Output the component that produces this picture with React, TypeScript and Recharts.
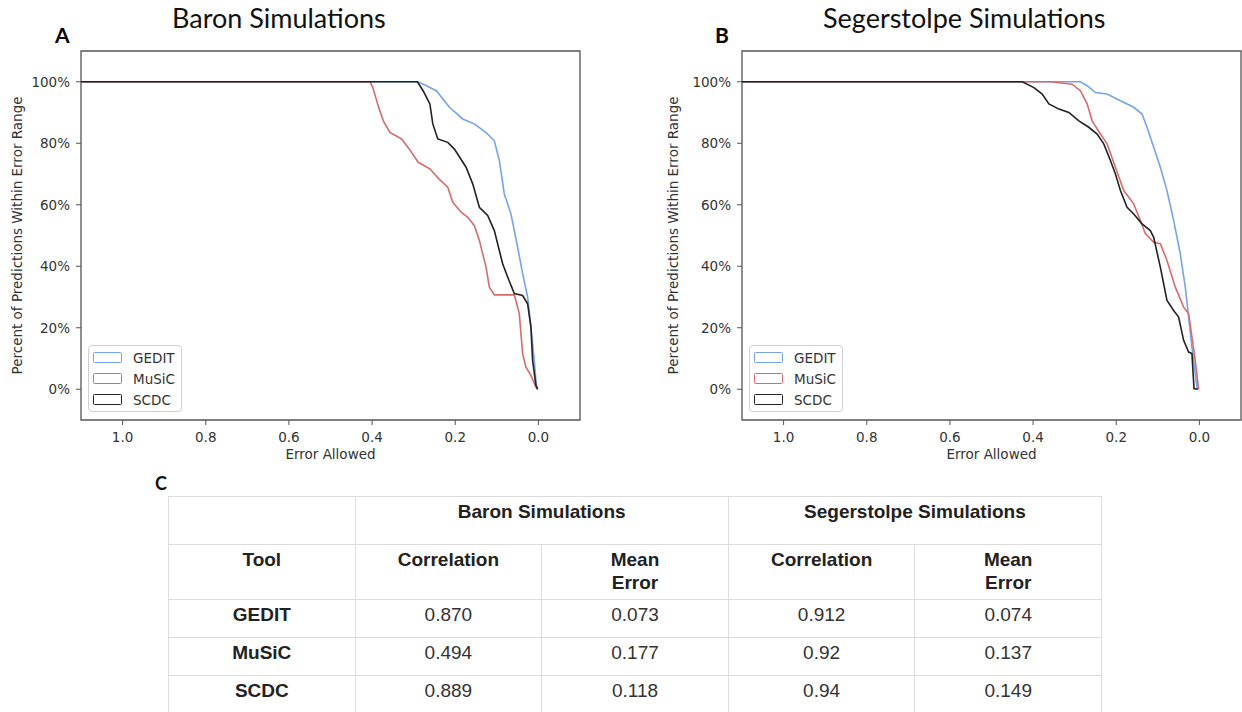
import React from 'react';
import { LineChart, Line, XAxis, YAxis, Legend, ReferenceArea } from 'recharts';

type Pt = [number, number];

// [error allowed, percent of predictions]
const baronGEDIT: Pt[] = [
  [1.1, 100], [0.29, 100], [0.269, 98.7], [0.245, 97], [0.214, 91.7], [0.182, 87.9], [0.154, 86.3],
  [0.126, 83.5], [0.106, 80.8], [0.094, 74.4], [0.082, 63.5], [0.066, 57], [0.05, 46.2], [0.038, 37.6],
  [0.026, 30], [0.018, 20.2], [0.01, 9.4], [0.005, 1.3], [0.002, 0],
];
const baronMuSiC: Pt[] = [
  [1.1, 100], [0.405, 100], [0.398, 98], [0.385, 92], [0.373, 87.3], [0.357, 83.5], [0.329, 81.4],
  [0.31, 78], [0.289, 73.8], [0.261, 71.7], [0.24, 68.5], [0.218, 65.7], [0.206, 60.8], [0.185, 57.5],
  [0.17, 55.9], [0.154, 53.2], [0.142, 48.4], [0.126, 39.7], [0.118, 33.2], [0.106, 30.7], [0.058, 30.7],
  [0.046, 24.6], [0.038, 11.6], [0.03, 7.2], [0.018, 4.5], [0.006, 0.7], [0.002, 0],
];
const baronSCDC: Pt[] = [
  [1.1, 100], [0.291, 100], [0.277, 97], [0.261, 92.8], [0.254, 86.3], [0.242, 81.4], [0.218, 80.3],
  [0.202, 78.1], [0.174, 72.2], [0.158, 66.8], [0.142, 59.2], [0.122, 56.5], [0.106, 51.6], [0.086, 40.8],
  [0.074, 36.5], [0.058, 31.1], [0.038, 30.5], [0.026, 27.8], [0.018, 20.2], [0.014, 9.4], [0.006, 1.3],
  [0.002, 0],
];
const segGEDIT: Pt[] = [
  [1.1, 100], [0.286, 100], [0.27, 98.7], [0.25, 96.5], [0.222, 96], [0.19, 93.8], [0.158, 91.7],
  [0.138, 89.5], [0.126, 85.2], [0.11, 78.7], [0.094, 72.2], [0.078, 64.6], [0.062, 54.9], [0.046, 44],
  [0.034, 33.2], [0.026, 23.5], [0.018, 13.7], [0.006, 0.7], [0.002, 0],
];
const segMuSiC: Pt[] = [
  [1.1, 100], [0.358, 100], [0.306, 99.2], [0.286, 97], [0.27, 92.8], [0.258, 87.3], [0.238, 83],
  [0.222, 79.8], [0.202, 72.2], [0.182, 64.6], [0.158, 60.3], [0.142, 54.9], [0.13, 50.6], [0.11, 47.8],
  [0.094, 47.3], [0.078, 41.9], [0.058, 33.2], [0.038, 26.7], [0.026, 24.6], [0.018, 17], [0.01, 9.4],
  [0.002, 0],
];
const segSCDC: Pt[] = [
  [1.1, 100], [0.426, 100], [0.398, 98.1], [0.378, 96], [0.362, 92.8], [0.338, 91.1], [0.314, 90],
  [0.29, 87.3], [0.266, 85.2], [0.246, 83], [0.23, 79.8], [0.214, 74.4], [0.202, 70], [0.19, 64.6],
  [0.174, 59.2], [0.158, 57], [0.138, 53.8], [0.118, 51.6], [0.11, 49.4], [0.094, 39.7], [0.078, 28.9],
  [0.062, 25.6], [0.05, 23.5], [0.038, 15.9], [0.026, 12.1], [0.018, 11.6], [0.013, 0.2], [0.004, 0],
];

const seriesNames = ['GEDIT', 'MuSiC', 'SCDC'];
const seriesColors = ['#74a3f0', '#dc6a6a', '#222222'];
const xTicks = [0, 0.2, 0.4, 0.6, 0.8, 1.0];
const yTicks = [0, 20, 40, 60, 80, 100];

// table
const tools = ['GEDIT', 'MuSiC', 'SCDC'];
const baronCorr = ['0.870', '0.494', '0.889'];
const baronErr = ['0.073', '0.177', '0.118'];
const segCorr = ['0.912', '0.92', '0.94'];
const segErr = ['0.074', '0.137', '0.149'];

const MPL = '"DejaVu Sans", sans-serif';
const TITLE = 'Lato, "Open Sans", sans-serif';

const toRows = (pts: Pt[]) => pts.map(([err, pct]) => ({ err, pct }));

const LegendBox = () => (
  <div style={{
    border: '1px solid #d0d0d0', borderRadius: 4, background: 'rgba(255,255,255,0.85)',
    padding: '1px 4px', width: 94, boxSizing: 'border-box', fontFamily: MPL, fontSize: 13.5, color: '#333',
  }}>
    {seriesNames.map((name, i) => (
      <div key={name} style={{ display: 'flex', alignItems: 'center', height: 21 }}>
        <span style={{
          width: 29, height: 11, border: `1.5px solid ${seriesColors[i]}`, boxSizing: 'border-box',
          borderRadius: 1.5, marginRight: 11, display: 'inline-block',
        }} />
        <span>{name}</span>
      </div>
    ))}
  </div>
);

const yTitle = (props: any) => {
  const vb = props.viewBox || {};
  const cx = (vb.x ?? 0) + 17;
  const cy = (vb.y ?? 51) + (vb.height ?? 369) / 2;
  return (
    <text x={cx} y={cy} transform={`rotate(-90, ${cx}, ${cy})`} textAnchor="middle"
      dominantBaseline="central" fontFamily={MPL} fontSize={13.5} fill="#333">
      Percent of Predictions Within Error Range
    </text>
  );
};

function Panel({ series, width, yWidth }: { series: Pt[][]; width: number; yWidth: number }) {
  return (
    <LineChart width={width} height={470} margin={{ top: 51, right: 1, bottom: 26, left: 0 }}>
      <XAxis type="number" dataKey="err" domain={[-0.1, 1.1]} reversed allowDataOverflow ticks={xTicks}
        tickFormatter={(v: number) => v.toFixed(1)} height={24} tickSize={5} tickMargin={7}
        axisLine={false} tickLine={{ stroke: '#555' }}
        tick={{ fontSize: 13.5, fill: '#333', fontFamily: MPL }}
        label={{ value: 'Error Allowed', position: 'bottom', offset: 5, fontSize: 13.5, fill: '#333', fontFamily: MPL }} />
      <YAxis type="number" domain={[-10, 110]} allowDataOverflow ticks={yTicks} width={yWidth}
        tickFormatter={(v: number) => `${v}%`} tickSize={5} tickMargin={6}
        axisLine={false} tickLine={{ stroke: '#555' }}
        tick={{ fontSize: 13.5, fill: '#333', fontFamily: MPL }}
        label={yTitle} />
      {series.map((pts, i) => (
        <Line key={seriesNames[i]} data={toRows(pts)} dataKey="pct" name={seriesNames[i]} type="linear"
          stroke={seriesColors[i]} strokeWidth={1.6} dot={false} activeDot={false} isAnimationActive={false} />
      ))}
      <ReferenceArea x1={-0.1} x2={1.1} y1={-10} y2={110} fill="none" stroke="#555" strokeWidth={1.3}
        ifOverflow="visible" />
      <Legend layout="horizontal" verticalAlign="middle" align="center" content={LegendBox}
        wrapperStyle={{ left: yWidth + 7, top: 345, bottom: 'auto', width: 94, height: 'auto' }} />
    </LineChart>
  );
}

const cell: React.CSSProperties = {
  border: '1px solid #dcdcdc', verticalAlign: 'top', textAlign: 'center', padding: '3px 4px 0',
  lineHeight: '23px',
};
const bold: React.CSSProperties = { ...cell, fontWeight: 700, color: '#222' };

export default function App() {
  return (
    <div style={{ position: 'absolute', left: 0, top: 0, width: 1242, height: 712, background: '#fff', overflow: 'hidden' }}>
      <div style={{ position: 'absolute', left: 172, top: 4, fontFamily: TITLE, fontSize: 27, lineHeight: '27px', color: '#111' }}>
        Baron Simulations
      </div>
      <div style={{ position: 'absolute', left: 823, top: 4, fontFamily: TITLE, fontSize: 27, lineHeight: '27px', color: '#111' }}>
        Segerstolpe Simulations
      </div>
      <div style={{ position: 'absolute', left: 55, top: 24, fontFamily: TITLE, fontWeight: 700, fontSize: 21, lineHeight: '21px', color: '#000' }}>A</div>
      <div style={{ position: 'absolute', left: 715, top: 24, fontFamily: TITLE, fontWeight: 700, fontSize: 21, lineHeight: '21px', color: '#000' }}>B</div>
      <div style={{ position: 'absolute', left: 155, top: 474, fontFamily: TITLE, fontWeight: 700, fontSize: 18, lineHeight: '18px', color: '#111' }}>C</div>

      <div style={{ position: 'absolute', left: 0, top: 0 }}>
        <Panel series={[baronGEDIT, baronMuSiC, baronSCDC]} width={581} yWidth={81} />
      </div>
      <div style={{ position: 'absolute', left: 656, top: 0 }}>
        <Panel series={[segGEDIT, segMuSiC, segSCDC]} width={586} yWidth={86} />
      </div>

      <table style={{
        position: 'absolute', left: 168, top: 496, width: 933, borderCollapse: 'collapse', tableLayout: 'fixed',
        fontFamily: '"Liberation Sans", Arial, sans-serif', fontSize: 19, color: '#333',
      }}>
        <colgroup>
          {[0, 1, 2, 3, 4].map((i) => <col key={i} style={{ width: 186.6 }} />)}
        </colgroup>
        <tbody>
          <tr style={{ height: 48 }}>
            <td style={cell} />
            <td colSpan={2} style={bold}>Baron Simulations</td>
            <td colSpan={2} style={bold}>Segerstolpe Simulations</td>
          </tr>
          <tr style={{ height: 55 }}>
            <td style={bold}>Tool</td>
            <td style={bold}>Correlation</td>
            <td style={bold}>Mean<br />Error</td>
            <td style={bold}>Correlation</td>
            <td style={bold}>Mean<br />Error</td>
          </tr>
          {tools.map((t, i) => (
            <tr key={t} style={{ height: 38 }}>
              <td style={bold}>{t}</td>
              <td style={cell}>{baronCorr[i]}</td>
              <td style={cell}>{baronErr[i]}</td>
              <td style={cell}>{segCorr[i]}</td>
              <td style={cell}>{segErr[i]}</td>
            </tr>
          ))}
        </tbody>
      </table>
    </div>
  );
}
